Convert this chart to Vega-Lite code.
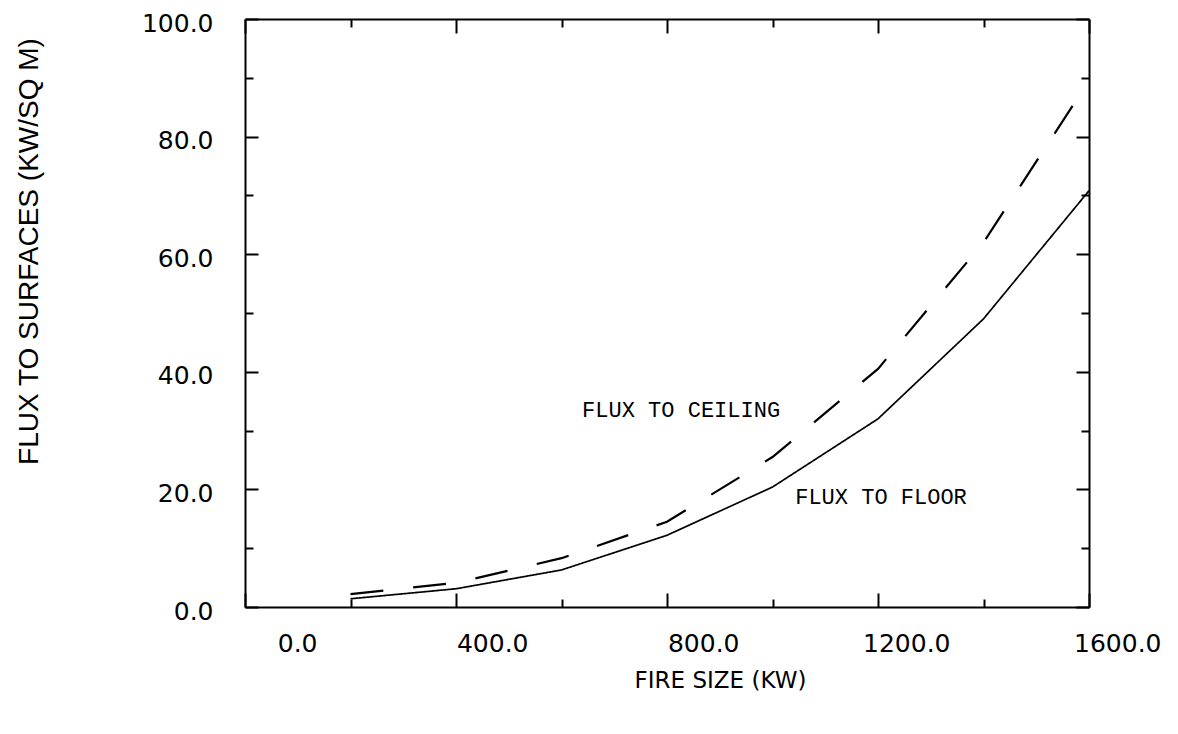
{
  "$schema": "https://vega.github.io/schema/vega-lite/v6.json",
  "width": 844,
  "height": 588,
  "autosize": {"type": "none"},
  "padding": {"left": 245, "top": 19, "right": 89, "bottom": 127},
  "background": "white",
  "config": {"view": {"stroke": null}},
  "datasets": {
    "curves": [
      {"kw": 200, "flux": 1.4, "series": "floor"},
      {"kw": 400, "flux": 3.1, "series": "floor"},
      {"kw": 600, "flux": 6.3, "series": "floor"},
      {"kw": 800, "flux": 12.2, "series": "floor"},
      {"kw": 1000, "flux": 20.4, "series": "floor"},
      {"kw": 1200, "flux": 32.0, "series": "floor"},
      {"kw": 1400, "flux": 49.0, "series": "floor"},
      {"kw": 1600, "flux": 70.8, "series": "floor"},
      {"kw": 200, "flux": 2.2, "series": "ceiling"},
      {"kw": 400, "flux": 4.1, "series": "ceiling"},
      {"kw": 600, "flux": 8.3, "series": "ceiling"},
      {"kw": 800, "flux": 14.5, "series": "ceiling"},
      {"kw": 1000, "flux": 25.5, "series": "ceiling"},
      {"kw": 1200, "flux": 40.5, "series": "ceiling"},
      {"kw": 1400, "flux": 62.0, "series": "ceiling"},
      {"kw": 1600, "flux": 89.5, "series": "ceiling"}
    ],
    "labels": [
      {"kw": 639, "flux": 33.5, "label": "FLUX TO CEILING"},
      {"kw": 1043, "flux": 18.7, "label": "FLUX TO FLOOR"}
    ]
  },
  "layer": [
    {
      "data": {"name": "curves"},
      "mark": {"type": "line", "color": "black", "strokeCap": "butt"},
      "encoding": {
        "x": {
          "field": "kw", "type": "quantitative",
          "scale": {"domain": [0, 1600], "nice": false, "zero": false},
          "axis": {
            "orient": "bottom",
            "values": [0, 200, 400, 600, 800, 1000, 1200, 1400, 1600],
            "grid": false,
            "domainColor": "black", "domainWidth": 2,
            "tickColor": "black", "tickWidth": 2,
            "tickSize": {"condition": {"test": "datum.value % 400 === 0", "value": -14}, "value": -8},
            "labelExpr": "datum.value % 400 === 0 ? format(datum.value, '.1f') : ''",
            "labelFont": "DejaVu Sans", "labelFontSize": 25, "labelColor": "black",
            "labelAlign": "right", "labelBaseline": "top", "labelOffset": 72,
            "labelPadding": 38, "labelFlush": false, "labelOverlap": false, "labelBound": false,
            "title": "FIRE SIZE (KW)",
            "titleFont": "DejaVu Sans", "titleFontSize": 23, "titleFontWeight": "normal", "titleColor": "black",
            "titleX": 475, "titleY": 73, "titleAlign": "center", "titleBaseline": "middle"
          }
        },
        "y": {
          "field": "flux", "type": "quantitative",
          "scale": {"domain": [0, 100], "nice": false},
          "axis": {
            "orient": "left",
            "values": [0, 10, 20, 30, 40, 50, 60, 70, 80, 90, 100],
            "grid": false,
            "domainColor": "black", "domainWidth": 2,
            "tickColor": "black", "tickWidth": 2,
            "tickSize": {"condition": {"test": "datum.value % 20 === 0", "value": -13}, "value": -8},
            "labelExpr": "datum.value % 20 === 0 ? format(datum.value, '.1f') : ''",
            "labelFont": "DejaVu Sans", "labelFontSize": 25, "labelColor": "black",
            "labelAlign": "right", "labelBaseline": "middle", "labelOffset": 4,
            "labelPadding": 45, "labelFlush": false, "labelOverlap": false, "labelBound": false,
            "title": "FLUX TO SURFACES (KW/SQ M)",
            "titleFont": "Liberation Sans", "titleFontSize": 28, "titleFontWeight": "normal", "titleColor": "black",
            "titleX": -216, "titleY": 232, "titleAngle": 270, "titleAlign": "center", "titleBaseline": "middle"
          }
        },
        "detail": {"field": "series"},
        "strokeDash": {
          "field": "series", "type": "nominal",
          "scale": {"domain": ["floor", "ceiling"], "range": [[1, 0], [33, 30]]},
          "legend": null
        },
        "strokeWidth": {
          "field": "series", "type": "nominal",
          "scale": {"domain": ["floor", "ceiling"], "range": [1.7, 2.2]},
          "legend": null
        }
      }
    },
    {
      "data": {"name": "labels"},
      "mark": {"type": "text", "align": "left", "baseline": "middle", "font": "Liberation Mono", "fontSize": 22, "color": "black"},
      "encoding": {
        "x": {
          "field": "kw", "type": "quantitative",
          "axis": {
            "orient": "top",
            "values": [0, 200, 400, 600, 800, 1000, 1200, 1400, 1600],
            "grid": false, "labels": false, "title": null,
            "domainColor": "black", "domainWidth": 2,
            "tickColor": "black", "tickWidth": 2,
            "tickSize": {"condition": {"test": "datum.value % 400 === 0", "value": -14}, "value": -8}
          }
        },
        "y": {
          "field": "flux", "type": "quantitative",
          "axis": {
            "orient": "right",
            "values": [0, 10, 20, 30, 40, 50, 60, 70, 80, 90, 100],
            "grid": false, "labels": false, "title": null,
            "domainColor": "black", "domainWidth": 2,
            "tickColor": "black", "tickWidth": 2,
            "tickSize": {"condition": {"test": "datum.value % 20 === 0", "value": -13}, "value": -8}
          }
        },
        "text": {"field": "label"}
      }
    }
  ],
  "resolve": {"axis": {"x": "independent", "y": "independent"}}
}
